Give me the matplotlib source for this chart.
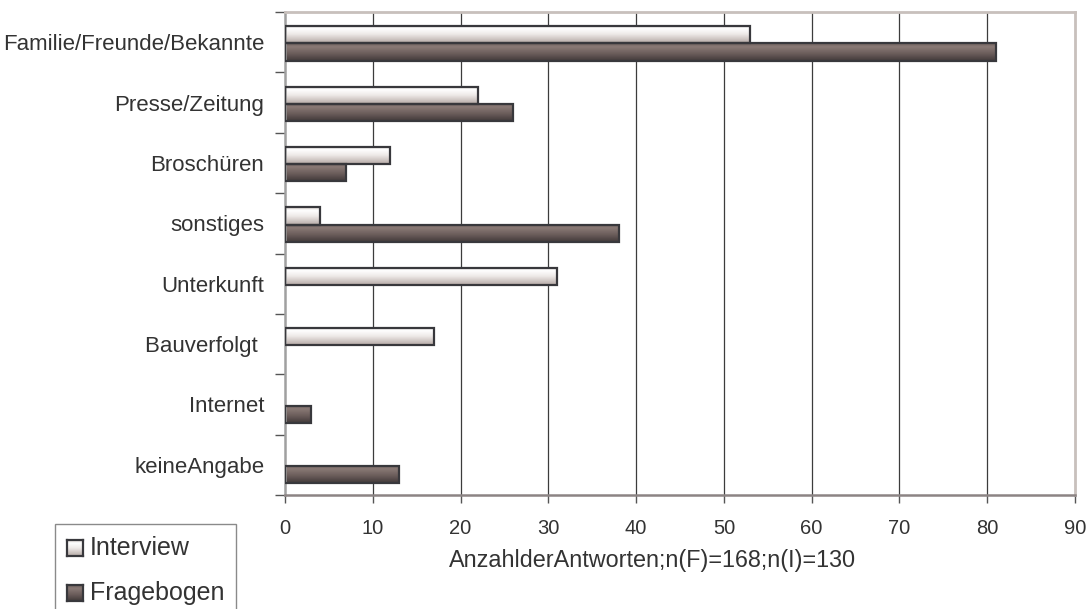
import numpy as np
import matplotlib
matplotlib.use("Agg")
import matplotlib.pyplot as plt
from matplotlib.colors import LinearSegmentedColormap
from matplotlib.patches import Rectangle

# Survey data: sources of information
categories = ["Familie/Freunde/Bekannte", "Presse/Zeitung", "Broschüren", "sonstiges",
              "Unterkunft", "Bauverfolgt ", "Internet", "keineAngabe"]
interview = [53, 22, 12, 4, 31, 17, 0, 0]
fragebogen = [81, 26, 7, 38, 0, 0, 3, 13]
series_names = ["Interview", "Fragebogen"]
x_ticks = [0, 10, 20, 30, 40, 50, 60, 70, 80, 90]
x_label = "AnzahlderAntworten;n(F)=168;n(I)=130"

plt.rcParams["font.family"] = ["Liberation Sans", "DejaVu Sans"]
text_color = "#333333"

# vertical gradients for the bar faces (top -> bottom)
light_cmap = LinearSegmentedColormap.from_list(
    "light", [(0.0, "#d8d0cc"), (0.18, "#ffffff"), (0.5, "#eeeae8"), (1.0, "#b6aaa6")])
dark_cmap = LinearSegmentedColormap.from_list(
    "dark", [(0.0, "#6e605c"), (0.2, "#8a7a76"), (0.6, "#6a5c5a"), (1.0, "#423a3a")])
grad = np.linspace(0, 1, 64).reshape(-1, 1)

W, H = 1090, 609
fig = plt.figure(figsize=(W / 100, H / 100), dpi=100)
ax = fig.add_axes([285 / W, 1 - 495 / H, (1075 - 285) / W, (495 - 12) / H])

n = len(categories)
ypos = np.arange(n)[::-1].astype(float)  # first category at the top
bar_h = 0.285
edge = "#38383c"


def gradient_bar(axis, y_low, y_high, value, cmap):
    if value <= 0:
        return
    axis.imshow(grad, cmap=cmap, extent=(0, value, y_low, y_high), origin="upper",
                aspect="auto", interpolation="bilinear", zorder=2)
    axis.add_patch(Rectangle((0, y_low), value, y_high - y_low, facecolor="none",
                             edgecolor=edge, linewidth=1.6, zorder=3))


offset = -0.02  # pair sits a touch below the slot centre
for yc, vi, vf in zip(ypos, interview, fragebogen):
    gradient_bar(ax, yc + offset, yc + offset + bar_h, vi, light_cmap)
    gradient_bar(ax, yc + offset - bar_h, yc + offset, vf, dark_cmap)

ax.set_xlim(0, 90)
ax.set_ylim(-0.5, n - 0.5)

# vertical grid
for xv in x_ticks[1:-1]:
    ax.axvline(xv, color="#3c3c3c", linewidth=0.9, zorder=1)

# spines
for side in ("top", "right"):
    ax.spines[side].set_color("#c8c0bc")
    ax.spines[side].set_linewidth(2.0)
ax.spines["left"].set_color("#a0a0a0")
ax.spines["left"].set_linewidth(1.8)
ax.spines["bottom"].set_color("#8c8484")
ax.spines["bottom"].set_linewidth(1.8)

# x axis
ax.set_xticks(x_ticks)
ax.set_xticklabels([str(v) for v in x_ticks], fontsize=14.5, color=text_color)
ax.tick_params(axis="x", direction="out", length=6, width=1.0, color="#555555", pad=11)
ax.set_xlabel(x_label, fontsize=16.8, color=text_color, va="center")
ax.xaxis.set_label_coords((653 - 285) / 790, (495 - 561) / 483)

# y axis: tick marks at category boundaries, labels at centers
ax.set_yticks(np.arange(-0.5, n, 1.0))
ax.set_yticklabels([])
ax.tick_params(axis="y", which="major", direction="out", length=7, width=1.0, color="#555555")
ax.set_yticks(ypos, minor=True)
ax.set_yticklabels(categories, minor=True, fontsize=16, color=text_color)
ax.tick_params(axis="y", which="minor", length=0, pad=15)


# legend box in figure pixels (top-origin coordinates)
def fx(px):
    return px / W


def fy(py):
    return 1 - py / H


fig.patches.append(Rectangle((fx(55), fy(615)), fx(236) - fx(55), fy(524) - fy(615),
                             transform=fig.transFigure, facecolor="white",
                             edgecolor="#8a8a8a", linewidth=1.0, zorder=5))
for name, cmap, top in zip(series_names, [light_cmap, dark_cmap], [540, 585]):
    mk = fig.add_axes([fx(67), fy(top + 16), fx(16), 16 / H], zorder=6)
    mk.imshow(grad, cmap=cmap, extent=(0, 1, 0, 1), origin="upper", aspect="auto",
              interpolation="bilinear")
    mk.set_xticks([])
    mk.set_yticks([])
    for s in mk.spines.values():
        s.set_color(edge)
        s.set_linewidth(1.6)
    fig.text(fx(90), fy(top + 8), name, fontsize=18, color=text_color,
             ha="left", va="center", zorder=7)

fig.savefig("out.png", dpi=100)
